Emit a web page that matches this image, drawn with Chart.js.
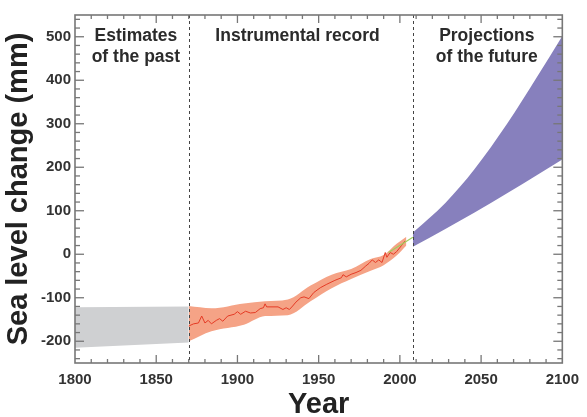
<!DOCTYPE html>
<html>
<head>
<meta charset="utf-8">
<script src="https://cdn.jsdelivr.net/npm/chart.js@4/dist/chart.umd.min.js"></script>
<style>
html, body { margin: 0; padding: 0; background: #fff; }
#wrap { width: 587px; height: 417px; position: relative; }
</style>
</head>
<body>
<div id="wrap"><canvas id="slr"></canvas></div>
<script>
// sea level change (mm) relative to 1980-1999
var pastYears = [1800, 1870];
var pastUpper = [-122, -120];
var pastLower = [-215, -203];

var bandYears = [1870, 1884, 1904, 1917, 1931, 1945, 1958, 1970, 1982, 1990, 1998, 2004];
var bandUpper = [-119, -124, -113, -108, -104, -72, -47, -34, -11, -2, 24, 40];
var bandLower = [-200, -177, -162, -142, -140, -108, -78, -57, -38, -25, -3, 20];

var gaugeYears = [1870, 1873, 1876, 1878, 1880, 1882, 1884, 1887, 1889, 1891, 1894, 1898, 1900, 1902,
                  1905, 1908, 1911, 1914, 1916, 1917, 1918, 1925, 1928, 1930, 1932, 1934, 1936, 1939,
                  1941, 1944, 1947, 1951, 1955, 1960, 1964, 1965, 1967, 1970, 1973, 1976, 1979, 1981,
                  1983, 1985, 1987, 1989, 1991, 1992, 1994, 1996, 1998, 2001, 2003];
var gaugeLevel = [-165, -160, -158, -142, -158, -152, -160, -152, -148, -154, -142, -138, -132, -138,
                  -131, -135, -134, -125, -123, -114, -121, -121, -127, -123, -127, -119, -110, -100,
                  -98, -102, -88, -77, -69, -60, -54, -47, -52, -46, -42, -37, -27, -21,
                  -13, -19, -13, -19, 4, -7, 4, 0, 6, 20, 30];

var satYears = [1993, 2008];
var satLevel = [4, 39];

var projYears = [2008, 2028, 2046, 2066, 2084, 2100];
var projUpper = [50, 118, 196, 300, 405, 502];
var projLower = [17, 58, 96, 140, 181, 218];

var xTicks = [1800, 1850, 1900, 1950, 2000, 2050, 2100];
var yTicks = [-200, -100, 0, 100, 200, 300, 400, 500];
var dividers = [1870, 2008];

var FONT = "'Liberation Sans', Arial, Helvetica, sans-serif";

function pts(xs, ys) {
    return xs.map(function (x, i) { return {x: x, y: ys[i]}; });
}

function band(xs, ys, color, fill, tension) {
    return {
        data: pts(xs, ys),
        fill: fill,
        order: 2,
        backgroundColor: color,
        borderColor: 'transparent',
        borderWidth: 0,
        pointRadius: 0,
        tension: tension,
        cubicInterpolationMode: tension ? 'monotone' : 'default'
    };
}

// frame, inward ticks, period dividers and labels
var decor = {
    id: 'decor',
    afterDatasetsDraw: function (chart) {
        var ctx = chart.ctx, a = chart.chartArea;
        var xs = chart.scales.x, ys = chart.scales.y;
        function seg(x1, y1, x2, y2) {
            ctx.beginPath(); ctx.moveTo(x1, y1); ctx.lineTo(x2, y2); ctx.stroke();
        }
        ctx.save();
        ctx.strokeStyle = '#444';
        ctx.lineWidth = 1;
        ctx.setLineDash([3, 3]);
        dividers.forEach(function (yr) {
            var px = Math.round(xs.getPixelForValue(yr)) + 0.5;
            seg(px, a.top, px, a.bottom);
        });
        ctx.setLineDash([]);

        ctx.strokeStyle = '#777';
        ctx.lineWidth = 1.3;
        var yr, v, p, len;
        for (yr = 1810; yr < 2100; yr += 10) {
            p = xs.getPixelForValue(yr);
            len = yr % 50 === 0 ? 8 : 4;
            seg(p, a.bottom, p, a.bottom - len);
            seg(p, a.top, p, a.top + len);
        }
        for (v = -240; v <= 540; v += 20) {
            p = ys.getPixelForValue(v);
            len = v % 100 === 0 ? 9 : 5;
            seg(a.left, p, a.left + len, p);
            seg(a.right, p, a.right - len, p);
        }
        ctx.lineWidth = 1.6;
        ctx.strokeRect(a.left, a.top, a.right - a.left, a.bottom - a.top);

        ctx.fillStyle = '#2b2b2b';
        ctx.font = 'bold 17.5px ' + FONT;
        ctx.textAlign = 'center';
        ctx.textBaseline = 'middle';
        ctx.fillText('Estimates', xs.getPixelForValue(1837.5), a.top + 21);
        ctx.fillText('of the past', xs.getPixelForValue(1837.5), a.top + 42);
        ctx.fillText('Instrumental record', xs.getPixelForValue(1937), a.top + 21);
        ctx.fillText('Projections', xs.getPixelForValue(2053.5), a.top + 21);
        ctx.fillText('of the future', xs.getPixelForValue(2053.5), a.top + 42);
        ctx.restore();
    }
};

new Chart(document.getElementById('slr'), {
    type: 'line',
    data: {
        datasets: [
            band(pastYears, pastUpper, '#cfd0d2', '+1', 0),
            band(pastYears, pastLower, '#cfd0d2', false, 0),
            band(bandYears, bandUpper, '#f5a386', '+1', 0.4),
            band(bandYears, bandLower, '#f5a386', false, 0.4),
            band(projYears, projUpper, '#8780bd', '+1', 0.4),
            band(projYears, projLower, '#8780bd', false, 0.4),
            {
                data: pts(gaugeYears, gaugeLevel),
                order: 1,
                borderColor: '#e53b25',
                borderWidth: 1,
                pointRadius: 0,
                fill: false,
                tension: 0
            },
            {
                data: pts(satYears, satLevel),
                order: 0,
                borderColor: '#9fcf5c',
                borderWidth: 1.2,
                pointRadius: 0,
                fill: false
            }
        ]
    },
    options: {
        responsive: true,
        maintainAspectRatio: false,
        animation: false,
        layout: { padding: { top: 15, right: 22, left: 0, bottom: 0 } },
        plugins: {
            legend: { display: false },
            tooltip: { enabled: false }
        },
        scales: {
            x: {
                type: 'linear',
                min: 1800,
                max: 2100,
                afterBuildTicks: function (s) {
                    s.ticks = xTicks.map(function (v) { return {value: v}; });
                },
                afterFit: function (s) { s.height = 54; },
                grid: { display: false, drawTicks: false },
                border: { display: false },
                ticks: {
                    padding: 8,
                    color: '#333',
                    autoSkip: false,
                    maxRotation: 0,
                    font: { family: FONT, size: 15, weight: 'bold' },
                    callback: function (v) { return String(v); }
                },
                title: {
                    display: true,
                    text: 'Year',
                    color: '#222',
                    padding: 0,
                    font: { family: FONT, size: 29, weight: 'bold', lineHeight: 0.83 }
                }
            },
            y: {
                type: 'linear',
                min: -250,
                max: 550,
                afterBuildTicks: function (s) {
                    s.ticks = yTicks.map(function (v) { return {value: v}; });
                },
                afterFit: function (s) { s.width = 75; },
                grid: { display: false, drawTicks: false },
                border: { display: false },
                ticks: {
                    padding: 4,
                    color: '#333',
                    font: { family: FONT, size: 15, weight: 'bold' },
                    callback: function (v) { return String(v); }
                },
                title: {
                    display: true,
                    text: 'Sea level change (mm)',
                    color: '#222',
                    padding: { top: 2, bottom: 0 },
                    font: { family: FONT, size: 29, weight: 'bold', lineHeight: 1.2 }
                }
            }
        }
    },
    plugins: [decor]
});
</script>
</body>
</html>
